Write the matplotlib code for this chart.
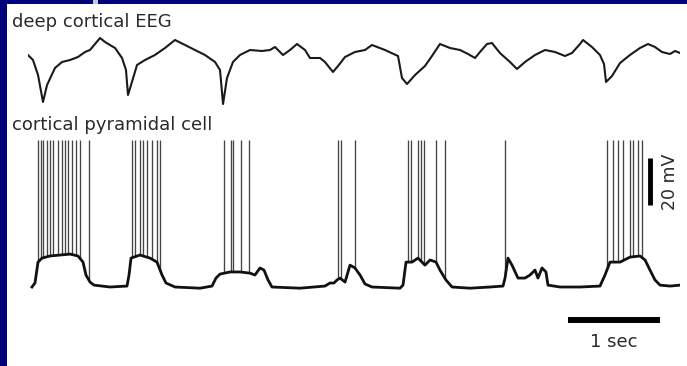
import matplotlib as mpl
mpl.use('Agg')
import matplotlib.pyplot as plt
from matplotlib.patches import Rectangle
import numpy as np

# deep cortical EEG (time in s, arbitrary uV)
eeg_t = [0.000, 0.054, 0.109, 0.163, 0.207, 0.293, 0.370, 0.457, 0.543, 0.620,
         0.674, 0.728, 0.783, 0.837, 0.946, 1.022, 1.065, 1.087, 1.120, 1.185,
         1.272, 1.380, 1.489, 1.598, 1.707, 1.815, 1.924, 2.033, 2.087, 2.120,
         2.163, 2.228, 2.304, 2.413, 2.543, 2.630, 2.685, 2.772, 2.848, 2.924,
         3.011, 3.065, 3.174, 3.228, 3.315, 3.370, 3.446, 3.554, 3.663, 3.739,
         3.880, 4.022, 4.065, 4.120, 4.207, 4.315, 4.391, 4.478, 4.587, 4.696,
         4.783, 4.859, 4.913, 4.989, 5.043, 5.130, 5.239, 5.315, 5.402, 5.511,
         5.620, 5.728, 5.837, 5.913, 6.000, 6.033, 6.130, 6.217, 6.261, 6.283,
         6.348, 6.435, 6.543, 6.652, 6.739, 6.815, 6.891, 6.978, 7.033, 7.087]
eeg_uv = [0, -10, -40, -94, -60, -26, -14, -10, -4, 6,
          10, 22, 34, 26, 14, -6, -30, -80, -60, -20,
          -10, 0, 14, 30, 20, 10, 0, -14, -30, -98,
          -46, -14, 0, 10, 8, 10, 16, 0, 10, 22,
          10, -6, -6, -14, -34, -22, -4, 6, 10, 20,
          10, -2, -46, -58, -40, -22, -2, 22, 14, 10,
          2, -6, 6, 22, 24, 4, -14, -28, -14, 0,
          10, 6, -2, 4, 22, 30, 16, 0, -18, -54,
          -42, -16, 0, 14, 22, 16, 6, 2, 8, 4]

# cortical pyramidal cell, subthreshold membrane potential (mV)
vm_t = [0.043, 0.076, 0.109, 0.152, 0.239, 0.348, 0.457, 0.543, 0.598, 0.630,
        0.674, 0.717, 0.891, 1.076, 1.098, 1.120, 1.217, 1.326, 1.402, 1.457,
        1.500, 1.598, 1.870, 2.000, 2.043, 2.087, 2.196, 2.304, 2.413, 2.467,
        2.522, 2.565, 2.609, 2.652, 2.957, 3.228, 3.283, 3.326, 3.359, 3.391,
        3.446, 3.500, 3.554, 3.609, 3.663, 3.739, 4.043, 4.076, 4.109, 4.174,
        4.239, 4.315, 4.370, 4.435, 4.478, 4.543, 4.609, 4.804, 5.022, 5.163,
        5.185, 5.217, 5.261, 5.326, 5.402, 5.457, 5.511, 5.543, 5.587, 5.630,
        5.652, 5.783, 6.000, 6.217, 6.272, 6.326, 6.435, 6.543, 6.652, 6.707,
        6.761, 6.815, 6.870, 6.978, 7.087]
vm_mv = [-70.4, -68.7, -59.8, -58.1, -57.2, -56.8, -56.4, -57.2, -59.8, -65.3,
         -68.3, -69.6, -70.4, -70.0, -65.3, -58.1, -56.8, -58.1, -59.8, -65.3,
         -68.7, -70.4, -70.9, -70.0, -66.6, -64.9, -64.0, -64.0, -64.5, -65.3,
         -62.3, -63.2, -67.4, -70.4, -70.9, -70.0, -68.7, -68.7, -67.4, -66.6,
         -68.3, -61.1, -62.3, -65.3, -69.1, -70.4, -70.9, -69.6, -59.8, -59.8,
         -58.1, -61.1, -58.9, -59.8, -63.2, -67.4, -70.4, -70.9, -70.4, -70.0,
         -66.6, -58.1, -61.1, -66.6, -66.6, -65.3, -63.2, -66.6, -62.3, -64.0,
         -69.6, -70.4, -70.4, -70.0, -65.3, -59.8, -59.8, -57.7, -57.2, -58.9,
         -63.2, -67.4, -69.6, -70.0, -69.6]

# action potential times (s) and peak (mV)
spike_t = [0.109, 0.141, 0.163, 0.207, 0.239, 0.272, 0.326, 0.370, 0.402, 0.435,
           0.478, 0.522, 0.565, 0.663,
           1.130, 1.163, 1.217, 1.250, 1.293, 1.348, 1.402, 1.435,
           2.130, 2.207, 2.228, 2.315, 2.402,
           3.370, 3.402, 3.554,
           4.130, 4.163, 4.239, 4.272, 4.304, 4.435, 4.533,
           5.185,
           6.293, 6.359, 6.413, 6.467, 6.543, 6.576, 6.630, 6.674]
spike_peak = -8.0

fig = plt.figure(figsize=(6.87, 3.66), dpi=100, facecolor='#00007a')
W, H = 687.0, 366.0

# white panel inside the navy frame
fig.add_artist(Rectangle((7 / W, 0), 1 - 7 / W, 1 - 4 / H, transform=fig.transFigure,
                         facecolor='white', edgecolor='none', zorder=0))
fig.add_artist(Rectangle((93 / W, 1 - 4 / H), 5 / W, 4 / H, transform=fig.transFigure,
                         facecolor='#c8c8d0', edgecolor='none', zorder=0))

xlim = (0, 7.087)
ax_left, ax_w = 28 / W, 652 / W

ax1 = fig.add_axes([ax_left, (H - 110) / H, ax_w, 80 / H])
ax1.plot(eeg_t, eeg_uv, color='#1a1a1a', lw=1.5)
ax1.set_xlim(xlim)
ax1.set_ylim(-110, 50)
ax1.axis('off')

ax2 = fig.add_axes([ax_left, (H - 350) / H, ax_w, 220 / H])
base = np.interp(spike_t, vm_t, vm_mv)
ax2.vlines(spike_t, base, spike_peak, color='#444444', lw=0.95)
ax2.plot(vm_t, vm_mv, color='#111111', lw=2.0)
ax2.set_xlim(xlim)
ax2.set_ylim(-97.2, -3.6)
ax2.axis('off')

# scale bars
ax2.plot([6.761, 6.761], [-35.5, -15.5], color='black', lw=3.5, solid_capstyle='butt')
ax2.text(6.978, -25.5, '20 mV', rotation=90, ha='center', va='center',
         fontsize=12.5, color='#2a2a2a')
ax2.plot([5.87, 6.87], [-84.5, -84.5], color='black', lw=4.3, solid_capstyle='butt')
ax2.text(6.37, -96, '1 sec', ha='center', va='baseline', fontsize=13, color='#2a2a2a')

fig.text(12 / W, 1 - 27 / H, 'deep cortical EEG', ha='left', va='baseline',
         fontsize=13, color='#2a2a2a')
fig.text(12 / W, 1 - 130 / H, 'cortical pyramidal cell', ha='left', va='baseline',
         fontsize=13, color='#2a2a2a')

fig.savefig('out.png', dpi=100, facecolor=fig.get_facecolor())
